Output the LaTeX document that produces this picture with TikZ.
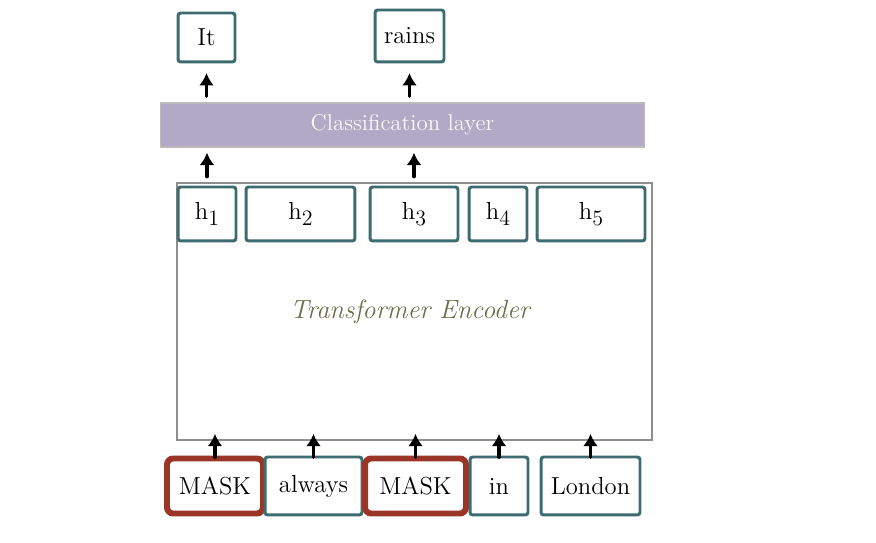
\documentclass[tikz,border=0pt]{standalone}
\usepackage{tikz}
\usetikzlibrary{positioning,arrows.meta}

\definecolor{tealbox}{HTML}{3D6C70}
\definecolor{maskred}{HTML}{9A3527}
\definecolor{clsfill}{HTML}{B1A9C5}
\definecolor{encgray}{HTML}{8E8E8E}
\definecolor{encolive}{HTML}{6B6E48}

\newcommand\hidx[1]{h\raisebox{-0.55ex}{\fontsize{12.5}{14}\selectfont#1}}

\tikzset{
    tok/.style={draw=tealbox, line width=1.7pt, rounded corners=1.5pt, minimum height=1.08cm, inner sep=0pt, font=\fontsize{14}{16}\selectfont},
    masktok/.style={tok, draw=maskred, line width=3.4pt, rounded corners=3.5pt, minimum height=1.1cm},
    upar/.style={line width=1.8pt, line cap=round, -{Latex[length=7pt,width=8.5pt]}}
}

\begin{document}
\begin{tikzpicture}[x=0.02cm,y=-0.02cm]
            \useasboundingbox (0,0) rectangle (876,543);

            % outputs
            \node[tok, minimum width=1.14cm, minimum height=0.98cm] (it) at (206.5,37.5) {It};
            \node[tok, minimum width=1.38cm, minimum height=1.04cm] (rains) at (409.5,36) {rains};

            \node[fill=clsfill, draw=encgray!60, line width=0.6pt, minimum width=9.7cm, minimum height=0.88cm, inner sep=0pt,
                  text=white!93!clsfill, font=\fontsize{13}{15}\selectfont] (cls) at (402.5,125) {Classification layer};

            % encoder
            \node[draw=encgray, line width=1.1pt, minimum width=9.5cm, minimum height=5.14cm, inner sep=0pt] (enc) at (414.5,311.5) {};
            \node[text=encolive, font=\fontsize{15}{17}\selectfont\itshape] (enclabel) at (410,312) {Transformer Encoder};

            \node[tok, minimum width=1.16cm] (h1) at (207,214) {\hidx{1}};
            \node[tok, minimum width=2.18cm] (h2) at (300.5,214) {\hidx{2}};
            \node[tok, minimum width=1.76cm] (h3) at (414,214) {\hidx{3}};
            \node[tok, minimum width=1.16cm] (h4) at (498,214) {\hidx{4}};
            \node[tok, minimum width=2.16cm] (h5) at (591,214) {\hidx{5}};

            % inputs
            \node[masktok, minimum width=1.92cm] (in1) at (215,486) {MASK};
            \node[tok, minimum width=1.94cm, minimum height=1.16cm] (in2) at (313.5,486) {always};
            \node[masktok, minimum width=2.02cm] (in3) at (415.5,486) {MASK};
            \node[tok, minimum width=1.16cm, minimum height=1.16cm] (in4) at (499,486) {in};
            \node[tok, minimum width=1.98cm, minimum height=1.16cm] (in5) at (590.5,486) {London};

            \foreach \n in {in1,in2,in3,in4,in5}
                \draw[upar, shorten <=-1pt, shorten >=-4pt] (\n.north) -- (\n.north |- enc.south);

            \foreach \n in {h1,h3}
                \draw[upar, shorten <=3pt, shorten >=3pt] (\n.north |- enc.north) -- (\n.north |- cls.south);

            \draw[upar, shorten <=3.5pt, shorten >=5.5pt] (it.south |- cls.north) -- (it.south);
            \draw[upar, shorten <=3.5pt, shorten >=5.5pt] (rains.south |- cls.north) -- (rains.south);

        \end{tikzpicture}
\end{document}
